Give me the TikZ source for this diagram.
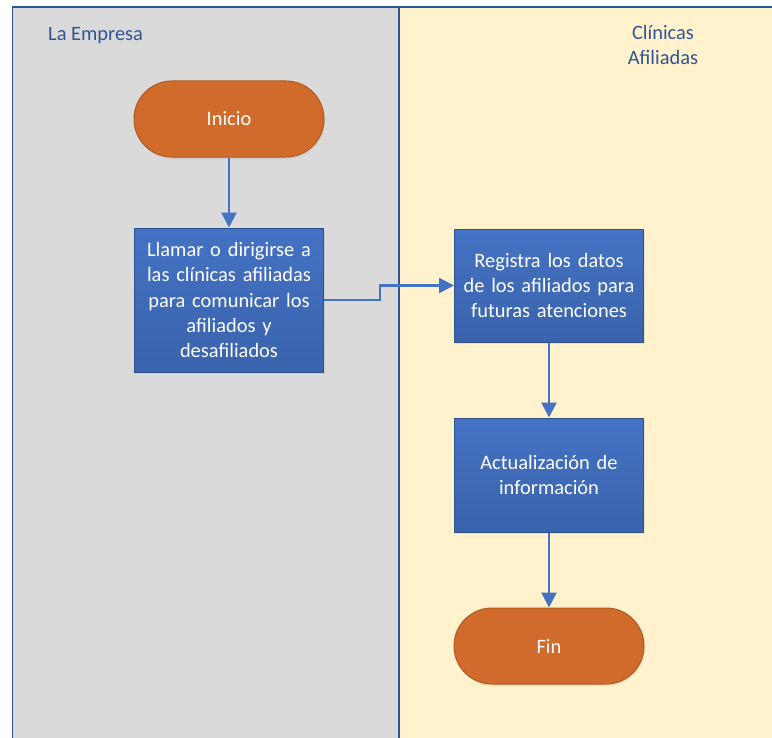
\documentclass[tikz,border=0pt]{standalone}
\usepackage{fontspec}
\setmainfont{Carlito}
\usetikzlibrary{arrows.meta,shadows}

\definecolor{laneline}{HTML}{2F5597}
\definecolor{lanegray}{HTML}{DADADA}
\definecolor{laneyellow}{HTML}{FFF2CC}
\definecolor{termfill}{HTML}{D06B2B}
\definecolor{termline}{HTML}{AE5A21}
\definecolor{procA}{HTML}{4472C4}
\definecolor{procB}{HTML}{3A63AC}
\definecolor{procline}{HTML}{2F528F}
\definecolor{flowblue}{HTML}{4472C4}

\tikzset{
  lane/.style={draw=laneline, line width=1.6bp},
  lanetitle/.style={text=laneline, font=\fontsize{20.5}{25.5}\selectfont, inner sep=0pt, align=center},
  terminal/.style={rounded corners=38bp, draw=termline, line width=1bp, fill=termfill,
    minimum width=190bp, minimum height=76bp, text=white,
    font=\fontsize{20.5}{25.5}\selectfont,
    drop shadow={opacity=0.15, shadow xshift=1bp, shadow yshift=-2bp}},
  process/.style={draw=procline, line width=1bp, top color=procA, bottom color=procB,
    minimum width=189bp, text width=180bp, align=center, text=white, inner sep=0pt,
    font=\fontsize{20.5}{25.5}\selectfont,
    drop shadow={opacity=0.15, shadow xshift=1bp, shadow yshift=-2bp}},
  flow/.style={draw=flowblue, line width=2.4bp, -{Triangle[length=15bp,width=15bp]}}
}

\begin{document}
\begin{tikzpicture}[x=1bp,y=-1bp]
  \useasboundingbox (0,0) rectangle (772,738);

  % swimlanes
  \fill[white] (0,0) rectangle (772,738);
  \filldraw[lane, fill=lanegray] (12.5,7) rectangle (399,745);
  \filldraw[lane, fill=laneyellow] (399,7) rectangle (780,745);

  \node[lanetitle, anchor=west] (t1) at (48,36) {La Empresa};
  \node[lanetitle] (t2) at (663,45) {Clínicas\\Afiliadas};

  % flow steps
  \node[terminal] (inicio) at (229,119) {Inicio};
  \node[process, minimum height=144bp] (llamar) at (229,300)
    {Llamar o dirigirse a\\las clínicas afiliadas\\para comunicar los\\afiliados y\\desafiliados};
  \node[process, minimum height=113bp] (registra) at (549,285.5)
    {Registra los datos\\de los afiliados para\\futuras atenciones};
  \node[process, minimum height=114bp] (actual) at (549,475)
    {Actualización de\\información};
  \node[terminal] (fin) at (549,646) {Fin};

  % connectors
  \draw[flow] (inicio) -- (llamar);
  \draw[flow] (llamar.east) -- ++(56,0) |- (registra.west);
  \draw[flow] (registra) -- (actual);
  \draw[flow] (actual) -- (fin);
\end{tikzpicture}
\end{document}
